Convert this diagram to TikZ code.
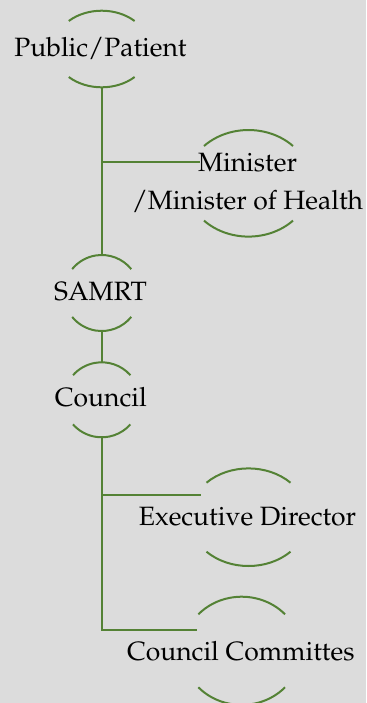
\documentclass[tikz,border=0pt]{standalone}
\usepackage[T1]{fontenc}
\usepackage{mathpazo}
\usetikzlibrary{calc}
\definecolor{bgc}{HTML}{DCDCDC}
\definecolor{grn}{HTML}{548235}
\newcommand\capsarcs[4]{%
  \draw[conn] ($(#1)+(#4:#2 and #3)$) arc[start angle=#4, end angle=180-#4, x radius=#2, y radius=#3];
  \draw[conn] ($(#1)+(-#4:#2 and #3)$) arc[start angle=-#4, end angle=-180+#4, x radius=#2, y radius=#3];
}
\begin{document}
\begin{tikzpicture}[x=0.5pt,y=0.5pt,
  conn/.style={draw=grn, line width=1pt},
  lbl/.style={font=\fontsize{13.25}{18.75}\selectfont, inner sep=0pt, anchor=base, align=center, text=black}]
\fill[bgc] (0,0) rectangle (366,-703);
\useasboundingbox (0,0) rectangle (366,-703);

% oval centres
\coordinate (ppC)  at (101.7,-49);
\coordinate (minC) at (248.5,-183.3);
\coordinate (samC) at (101.7,-293);
\coordinate (couC) at (101.7,-399.8);
\coordinate (exeC) at (248.5,-517.2);
\coordinate (comC) at (241.7,-650.8);

% labels
\node[lbl] (pp)  at (100.5,-56) {Public/Patient};
\node[lbl,anchor=center] (min) at (247.5,-183) {Minister\\/Minister of Health};
\node[lbl] (sam) at (100.5,-300) {SAMRT};
\node[lbl] (cou) at (100.8,-406.5) {Council};
\node[lbl] (exe) at (247.5,-525) {Executive Director};
\node[lbl] (com) at (240.8,-660) {Council Committes};

% arcs
\capsarcs{ppC}{48.3}{38.3}{47}
\capsarcs{minC}{62.3}{53.3}{44.4}
\capsarcs{samC}{38}{38}{39}
\capsarcs{couC}{38}{37.5}{41}
\capsarcs{exeC}{59.4}{48.8}{45}
\capsarcs{comC}{58.7}{54.1}{42.4}

% connector end points
\coordinate (ppB)  at ($(ppC)+(0,-38.3)$);
\coordinate (samT) at ($(samC)+(0,38)$);
\coordinate (samB) at ($(samC)+(0,-38)$);
\coordinate (couT) at ($(couC)+(0,37.5)$);
\coordinate (couB) at ($(couC)+(0,-37.5)$);
\coordinate (minL) at (200,-161.5);
\coordinate (exeL) at (201,-495);
\coordinate (comL) at (196.7,-630);

\draw[conn] (ppB) -- (samT);
\draw[conn] (ppB |- minL) -- (minL);
\draw[conn] (samB) -- (couT);
\draw[conn] (couB) |- (comL);
\draw[conn] (couB |- exeL) -- (exeL);
\end{tikzpicture}
\end{document}
